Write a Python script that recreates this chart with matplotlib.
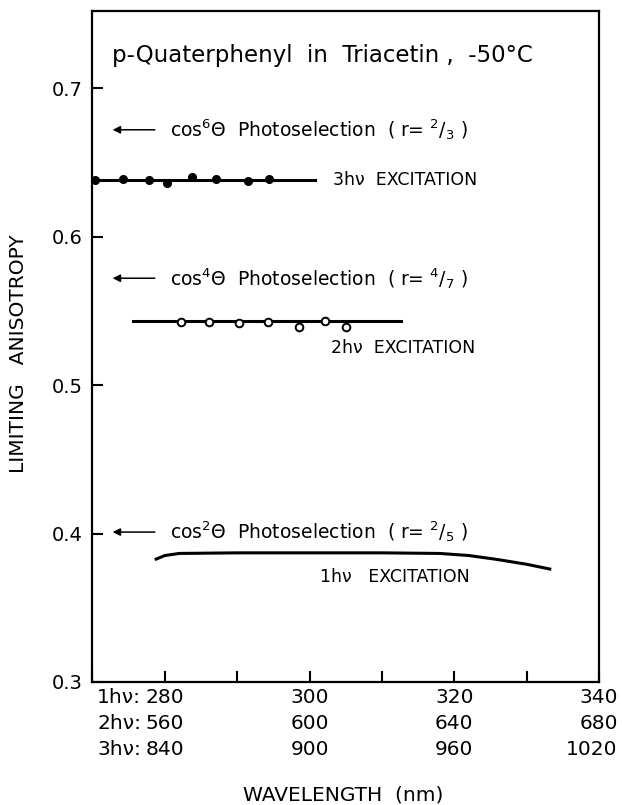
import matplotlib
matplotlib.use("Agg")
import matplotlib.pyplot as plt
import numpy as np

plt.rcParams['font.family'] = ['DejaVu Sans']
plt.rcParams['mathtext.fontset'] = 'dejavusans'

# 3hv excitation (filled circles)
nm_3hv = [270.3, 274.2, 277.8, 280.3, 283.7, 287.1, 291.5, 294.4]
r_3hv = [0.6379, 0.6386, 0.6379, 0.6363, 0.6399, 0.6390, 0.6376, 0.6388]
line_3hv_x = [270, 300.7]
line_3hv_y = [0.638, 0.638]

# 2hv excitation (open circles)
nm_2hv = [282.3, 286.1, 290.2, 294.3, 298.6, 302.1, 305.1]
r_2hv = [0.5426, 0.5426, 0.5420, 0.5426, 0.5393, 0.5431, 0.5389]
line_2hv_x = [275.6, 312.7]
line_2hv_y = [0.5431, 0.5431]

# 1hv excitation (smooth curve)
nm_1hv = [278.8, 280.0, 282.0, 290.0, 300.0, 310.0, 318.0, 322.0, 326.0, 330.0, 333.2]
r_1hv = [0.3828, 0.3852, 0.3866, 0.3870, 0.3870, 0.3870, 0.3866, 0.3852, 0.3825, 0.3793, 0.3761]

# tick label rows
tick_pos = [280, 300, 320, 340]
row1 = ["280", "300", "320", "340"]
row2 = ["560", "600", "640", "680"]
row3 = ["840", "900", "960", "1020"]
row_prefix = ["1hν:", "2hν:", "3hν:"]

# photoselection limits
limit_y = [0.672, 0.572, 0.401]
limit_text = [r"cos$^6\Theta$  Photoselection  ( r= $^{2}/_{3}$ )",
              r"cos$^4\Theta$  Photoselection  ( r= $^{4}/_{7}$ )",
              r"cos$^2\Theta$  Photoselection  ( r= $^{2}/_{5}$ )"]

fig = plt.figure(figsize=(6.22, 8.05), dpi=100)
ax = fig.add_axes([0.1487, 0.1528, 0.8143, 0.8335])

ax.plot(line_3hv_x, line_3hv_y, color="black", lw=2.2)
ax.plot(nm_3hv, r_3hv, "o", color="black", ms=5.5, clip_on=False)
ax.plot(line_2hv_x, line_2hv_y, color="black", lw=2.2)
ax.plot(nm_2hv, r_2hv, "o", color="black", mfc="white", mew=1.4, ms=5.5)
ax.plot(nm_1hv, r_1hv, color="black", lw=2.2)

ax.set_xlim(270, 340)
ax.set_ylim(0.3, 0.752)
ax.set_xticks(np.arange(270, 341, 10))
ax.set_xticklabels([])
ax.set_yticks([0.3, 0.4, 0.5, 0.6, 0.7])
ax.set_yticklabels(["0.3", "0.4", "0.5", "0.6", "0.7"], fontsize=14)
ax.tick_params(direction="in", length=8, width=1.5, pad=7)
for s in ax.spines.values():
    s.set_linewidth(1.6)

# multi-row wavelength labels
for k, row in enumerate([row1, row2, row3]):
    off = -11.5 - 18.5 * k
    for x, lab in zip(tick_pos, row):
        if x == tick_pos[-1]:
            # last column sits right-aligned against the figure edge
            ax.annotate(lab, xy=(x, 0), xycoords=("data", "axes fraction"),
                        xytext=(13.5, off), textcoords="offset points",
                        ha="right", va="center", fontsize=14.5)
        else:
            ax.annotate(lab, xy=(x, 0), xycoords=("data", "axes fraction"),
                        xytext=(0, off), textcoords="offset points",
                        ha="center", va="center", fontsize=14.5)
    ax.annotate(row_prefix[k], xy=(tick_pos[0], 0), xycoords=("data", "axes fraction"),
                xytext=(-17, off), textcoords="offset points",
                ha="right", va="center", fontsize=14.5)

# photoselection arrows and labels
for y, t in zip(limit_y, limit_text):
    ax.annotate("", xy=(272.4, y), xytext=(279.0, y),
                arrowprops=dict(arrowstyle="-|>", color="black", lw=1.1,
                                mutation_scale=11))
    ax.text(280.7, y, t, ha="left", va="center", fontsize=13.5)

ax.text(303.2, 0.638, "3hν  EXCITATION", ha="left", va="center", fontsize=12.5)
ax.text(302.9, 0.525, "2hν  EXCITATION", ha="left", va="center", fontsize=12.5)
ax.text(301.4, 0.371, "1hν   EXCITATION", ha="left", va="center", fontsize=12.5)

ax.text(272.7, 0.722, "p-Quaterphenyl  in  Triacetin ,  -50°C",
        ha="left", va="center", fontsize=16.5)

fig.text(19 / 622, 1 - 354 / 805, "LIMITING   ANISOTROPY", rotation=90,
         ha="center", va="center", fontsize=14.5)
fig.text(343 / 622, 1 - 795 / 805, "WAVELENGTH  (nm)", ha="center",
         va="center", fontsize=14.5)

fig.savefig("out.png", dpi=100)
